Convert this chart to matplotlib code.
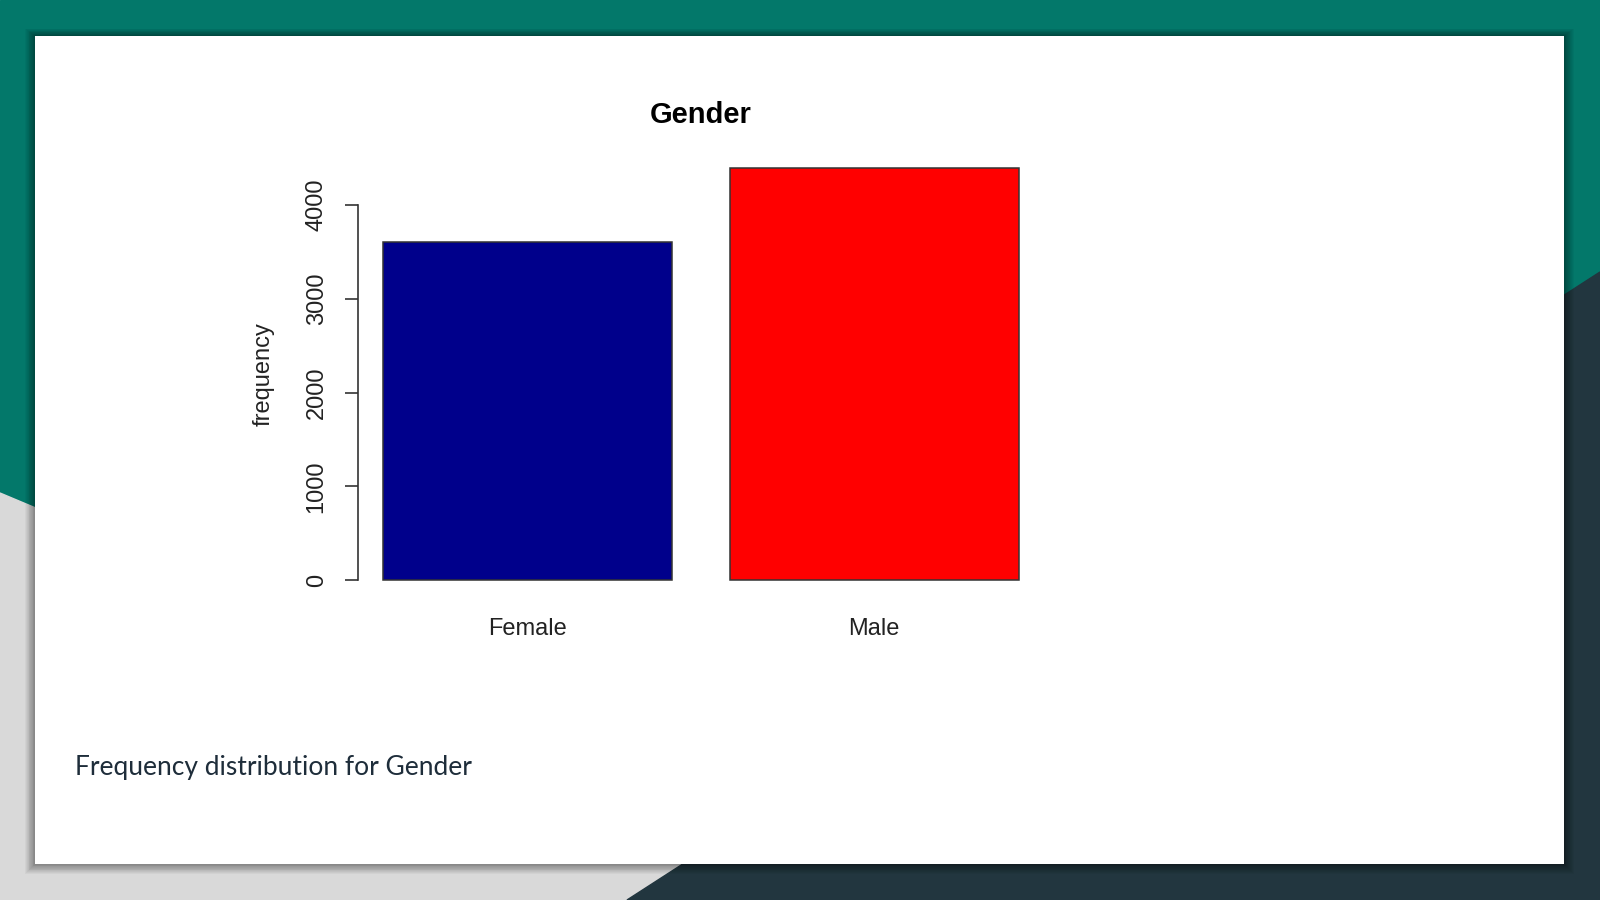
import matplotlib
matplotlib.use("Agg")
import matplotlib.pyplot as plt
from matplotlib.patches import Polygon, Rectangle

# data
categories = ["Female", "Male"]
counts = [3605, 4390]
bar_colors = ["#00008b", "#ff0000"]
yticks = [0, 1000, 2000, 3000, 4000]
title = "Gender"
ylabel = "frequency"
caption = "Frequency distribution for Gender"

W, H = 1600, 900
fig = plt.figure(figsize=(16, 9), dpi=100)

# slide background
bg = fig.add_axes([0, 0, 1, 1])
bg.set_xlim(0, W)
bg.set_ylim(H, 0)
bg.axis("off")
bg.add_patch(Rectangle((0, 0), W, H, color="#03786a", zorder=0))
bg.add_patch(Polygon([(0, 493), (W, 493 + 0.42 * W), (W, H), (0, H)],
                     color="#d9d9d9", zorder=1))
bg.add_patch(Polygon([(627, H), (W, 272), (W, H)], color="#22363f", zorder=2))

# card with soft shadow
cx0, cy0, cx1, cy1 = 35, 36, 1564, 864
for i in range(12, 0, -1):
    bg.add_patch(Rectangle((cx0 - i * 0.8, cy0 - i * 0.6), (cx1 - cx0) + i * 1.6,
                           (cy1 - cy0) + i * 1.4, color="black", alpha=0.035,
                           lw=0, zorder=3))
bg.add_patch(Rectangle((cx0, cy0), cx1 - cx0, cy1 - cy0, color="white", lw=0, zorder=4))

bg.text(75, 767, caption, fontsize=19, family="Lato", color="#1e2d3a",
        va="center", ha="left", zorder=5)

# R-style barplot
plt.rcParams["font.family"] = ["Liberation Sans", "DejaVu Sans"]
xl = (0.112, 2.488)
yl = (-175.6, 4565.6)
left = 357.5 / W
width = (1044 - 357.5) / W
bottom = 1 - 596.5 / H
height = (596.5 - 152) / H
ax = fig.add_axes([left, bottom, width, height])
ax.set_zorder(5)
ax.patch.set_alpha(0)

xpos = [0.7 + 1.2 * i for i in range(len(categories))]
ax.bar(xpos, counts, width=1.0, color=bar_colors, edgecolor="#333333", linewidth=1.1)
ax.set_xlim(*xl)
ax.set_ylim(*yl)

for s in ["top", "right", "bottom"]:
    ax.spines[s].set_visible(False)
ax.spines["left"].set_bounds(0, 4000)
ax.spines["left"].set_color("#333333")
ax.spines["left"].set_linewidth(1.2)
ax.set_yticks(yticks)
ax.set_yticklabels([str(t) for t in yticks], rotation=90, va="center", fontsize=17,
                   color="#222222")
ax.tick_params(axis="y", length=9.5, width=1.2, color="#333333", pad=12)
ax.set_xticks(xpos)
ax.set_xticklabels(categories, fontsize=17, color="#222222")
ax.tick_params(axis="x", length=0, pad=15.5)
ax.set_ylabel(ylabel, fontsize=17, color="#222222", labelpad=22)
ax.set_title(title, fontsize=21, fontweight="bold", pad=21)

fig.savefig("out.png", dpi=100)
